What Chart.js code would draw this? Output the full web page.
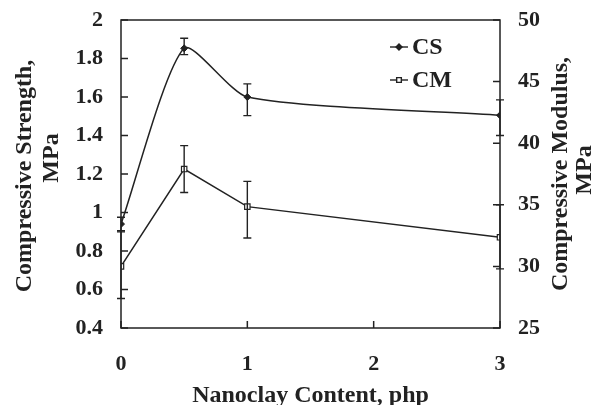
<!DOCTYPE html>
<html>
<head>
<meta charset="utf-8">
<script src="https://cdn.jsdelivr.net/npm/chart.js@4/dist/chart.umd.min.js"></script>
<style>
  body { margin: 0; background: #fff; }
  canvas { display: block; }
</style>
</head>
<body>
<canvas id="chart" width="592" height="405"></canvas>
<script>
// nanoclay content (php)
const nanoclay = [0, 0.5, 1, 3];

// compressive strength, MPa (left axis)
const csMean = [0.94, 1.853, 1.60, 1.505];
const csLow = [0.905, 1.82, 1.503, 1.40];
const csHigh = [0.975, 1.905, 1.668, 1.585];

// compressive modulus, MPa (right axis)
const cmMean = [30.0, 37.9, 34.85, 32.36];
const cmLow = [27.4, 36.0, 32.3, 29.8];
const cmHigh = [32.8, 39.8, 36.9, 35.0];

const seriesNames = ['CS', 'CM'];
const xTitle = 'Nanoclay Content, php';
const leftTitle = ['Compressive Strength,', 'MPa'];
const rightTitle = ['Compressive Modulus,', 'MPa'];

const INK = '#222';
const SERIF = "'Liberation Serif', 'Times New Roman', serif";
const TITLE_FONT = 'bold 24px ' + SERIF;

Chart.defaults.font.family = SERIF;
Chart.defaults.font.weight = 'bold';
Chart.defaults.font.size = 22;
Chart.defaults.color = INK;

const toPoints = (ys) => nanoclay.map((x, i) => ({ x: x, y: ys[i] }));
const plainNum = (v) => String(+Number(v).toFixed(1));

// fixed axis box sizes, no extra label padding
const fitY = (w) => (s) => { s.width = w; s.paddingTop = 0; s.paddingBottom = 0; };

const errorBars = {
    id: 'errorBars',
    afterDatasetsDraw(chart) {
        const ctx = chart.ctx;
        const sets = [
            { axis: 'y', lo: csLow, hi: csHigh },
            { axis: 'y1', lo: cmLow, hi: cmHigh }
        ];
        ctx.save();
        ctx.strokeStyle = INK;
        ctx.lineWidth = 1.4;
        sets.forEach(s => {
            const ys = chart.scales[s.axis];
            nanoclay.forEach((x, i) => {
                const px = chart.scales.x.getPixelForValue(x);
                const top = ys.getPixelForValue(s.hi[i]);
                const bot = ys.getPixelForValue(s.lo[i]);
                ctx.beginPath();
                ctx.moveTo(px, top); ctx.lineTo(px, bot);
                ctx.moveTo(px - 4, top); ctx.lineTo(px + 4, top);
                ctx.moveTo(px - 4, bot); ctx.lineTo(px + 4, bot);
                ctx.stroke();
            });
        });
        ctx.restore();
    },
    afterDraw(chart) {
        const ctx = chart.ctx;
        const a = chart.chartArea;
        ctx.save();
        ctx.strokeStyle = INK;
        ctx.lineWidth = 1.5;
        ctx.strokeRect(a.left, a.top, a.right - a.left, a.bottom - a.top);

        // inward tick marks
        ctx.beginPath();
        chart.scales.x.ticks.forEach(t => {
            const px = chart.scales.x.getPixelForValue(t.value);
            ctx.moveTo(px, a.bottom); ctx.lineTo(px, a.bottom - 7);
        });
        chart.scales.y.ticks.forEach(t => {
            const py = chart.scales.y.getPixelForValue(t.value);
            ctx.moveTo(a.left, py); ctx.lineTo(a.left + 7, py);
        });
        chart.scales.y1.ticks.forEach(t => {
            const py = chart.scales.y1.getPixelForValue(t.value);
            ctx.moveTo(a.right, py); ctx.lineTo(a.right - 7, py);
        });
        ctx.stroke();

        // axis titles
        ctx.fillStyle = INK;
        ctx.font = TITLE_FONT;
        ctx.textAlign = 'center';
        ctx.textBaseline = 'alphabetic';
        ctx.fillText(xTitle, (a.left + a.right) / 2, 402);

        const vtext = (txt, x, y) => {
            ctx.save();
            ctx.translate(x, y);
            ctx.rotate(-Math.PI / 2);
            ctx.fillText(txt, 0, 0);
            ctx.restore();
        };
        vtext(leftTitle[0], 31, 176);
        vtext(leftTitle[1], 58, 158);
        vtext(rightTitle[0], 567, 174);
        vtext(rightTitle[1], 591, 170);

        // legend
        ctx.textBaseline = 'middle';
        ctx.textAlign = 'left';
        chart.data.datasets.forEach((ds, i) => {
            const y = 47 + i * 33;
            ctx.beginPath();
            ctx.lineWidth = 1.4;
            ctx.strokeStyle = INK;
            ctx.moveTo(390, y); ctx.lineTo(408, y);
            ctx.stroke();
            ctx.fillStyle = ds.pointBackgroundColor;
            Chart.helpers.drawPoint(ctx, {
                pointStyle: ds.pointStyle,
                radius: ds.pointRadius - 0.5,
                borderWidth: 1.2
            }, 399, y);
            ctx.fillStyle = INK;
            ctx.fillText(seriesNames[i], 412, y + 1);
        });
        ctx.restore();
    }
};

new Chart(document.getElementById('chart'), {
    type: 'line',
    data: {
        datasets: [
            {
                label: seriesNames[0],
                data: toPoints(csMean),
                yAxisID: 'y',
                borderColor: INK,
                borderWidth: 1.5,
                tension: 0.22,
                pointStyle: 'rectRot',
                pointRadius: 3.5,
                pointBackgroundColor: INK,
                pointBorderColor: INK,
                pointBorderWidth: 1
            },
            {
                label: seriesNames[1],
                data: toPoints(cmMean),
                yAxisID: 'y1',
                borderColor: INK,
                borderWidth: 1.5,
                tension: 0,
                pointStyle: 'rect',
                pointRadius: 3.8,
                pointBackgroundColor: '#fff',
                pointBorderColor: INK,
                pointBorderWidth: 1.2
            }
        ]
    },
    options: {
        responsive: false,
        devicePixelRatio: 1,
        animation: false,
        layout: { padding: { top: 20, left: 0, right: 0, bottom: 0 } },
        plugins: { legend: { display: false }, tooltip: { enabled: false } },
        scales: {
            x: {
                type: 'linear',
                min: 0, max: 3,
                ticks: { stepSize: 1, padding: 23, maxRotation: 0, callback: plainNum },
                grid: { display: false, drawTicks: false },
                border: { display: false },
                afterFit: s => { s.height = 77; s.paddingLeft = 0; s.paddingRight = 0; }
            },
            y: {
                position: 'left',
                min: 0.4, max: 2,
                ticks: { stepSize: 0.2, padding: 18, callback: plainNum },
                grid: { display: false, drawTicks: false },
                border: { display: false },
                afterFit: fitY(121)
            },
            y1: {
                position: 'right',
                min: 25, max: 50,
                ticks: { stepSize: 5, padding: 18, callback: plainNum },
                grid: { display: false, drawTicks: false },
                border: { display: false },
                afterFit: fitY(92)
            }
        }
    },
    plugins: [errorBars]
});
</script>
</body>
</html>
